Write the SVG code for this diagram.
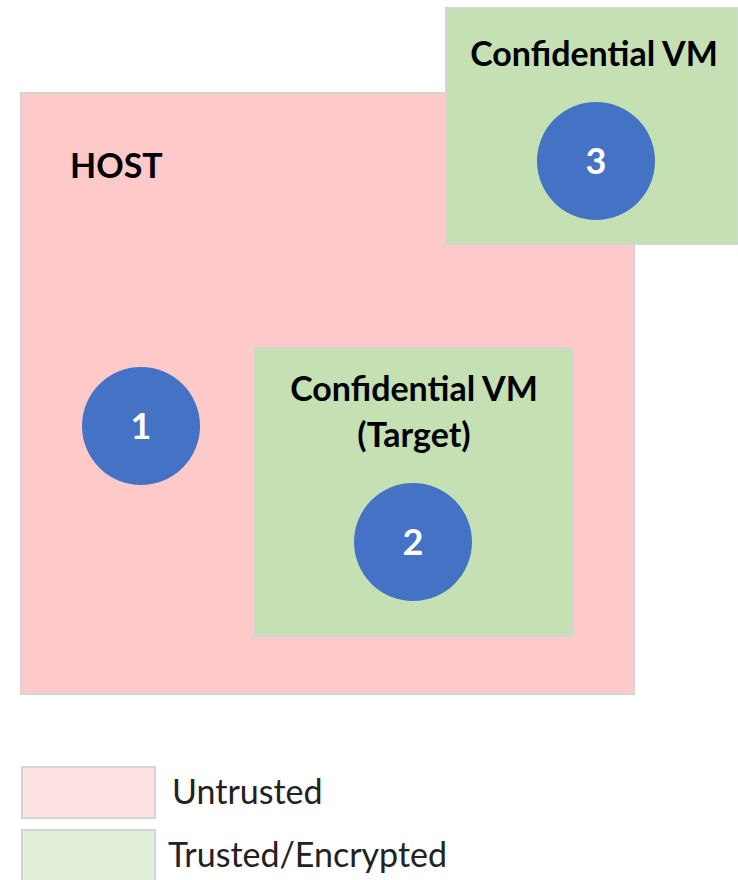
<svg xmlns="http://www.w3.org/2000/svg" width="738" height="880" viewBox="0 0 738 880">
<style>
.box{stroke:#d4d4d4;stroke-width:2}
.pink{fill:#fdc9c9}
.green{fill:#c5e0b3}
.circ{fill:#4472c4}
.lbl{font-family:Lato,"Liberation Sans",sans-serif;font-weight:bold;font-size:34px;fill:#000}
.num{font-family:Lato,"Liberation Sans",sans-serif;font-weight:bold;font-size:36px;fill:#fff;text-anchor:middle}
.leg{font-family:Lato,"Liberation Sans",sans-serif;font-size:34px;fill:#222}
</style>
<rect width="738" height="880" fill="#fff"/>
<g id="host">
<rect class="box pink" x="21" y="93" width="613" height="601"/>
<text class="lbl" x="70" y="178" font-size="36">HOST</text>
</g>
<g id="vm-top">
<rect class="box green" x="446" y="8" width="292" height="236"/>
<text class="lbl" x="594" y="66" text-anchor="middle">Confidential VM</text>
</g>
<g id="c3">
<circle class="circ" cx="596" cy="161" r="59"/>
<text class="num" x="596" y="174">3</text>
</g>
<g id="c1">
<circle class="circ" cx="141" cy="426" r="59"/>
<text class="num" x="141" y="439">1</text>
</g>
<g id="vm-target">
<rect class="box green" x="255" y="348" width="318" height="288"/>
<text class="lbl" x="414" y="401" text-anchor="middle">Confidential VM</text>
<text class="lbl" x="414" y="447" text-anchor="middle">(Target)</text>
</g>
<g id="c2">
<circle class="circ" cx="413" cy="542" r="59"/>
<text class="num" x="413" y="555">2</text>
</g>
<g id="legend">
<rect class="box" fill="#fde3e3" x="22" y="767" width="133" height="51"/>
<text class="leg" x="172" y="804">Untrusted</text>
<rect class="box" fill="#e2efd9" x="22" y="830" width="133" height="52"/>
<text class="leg" x="168" y="867">Trusted/Encrypted</text>
</g>
<g id="connectors"></g>
</svg>
